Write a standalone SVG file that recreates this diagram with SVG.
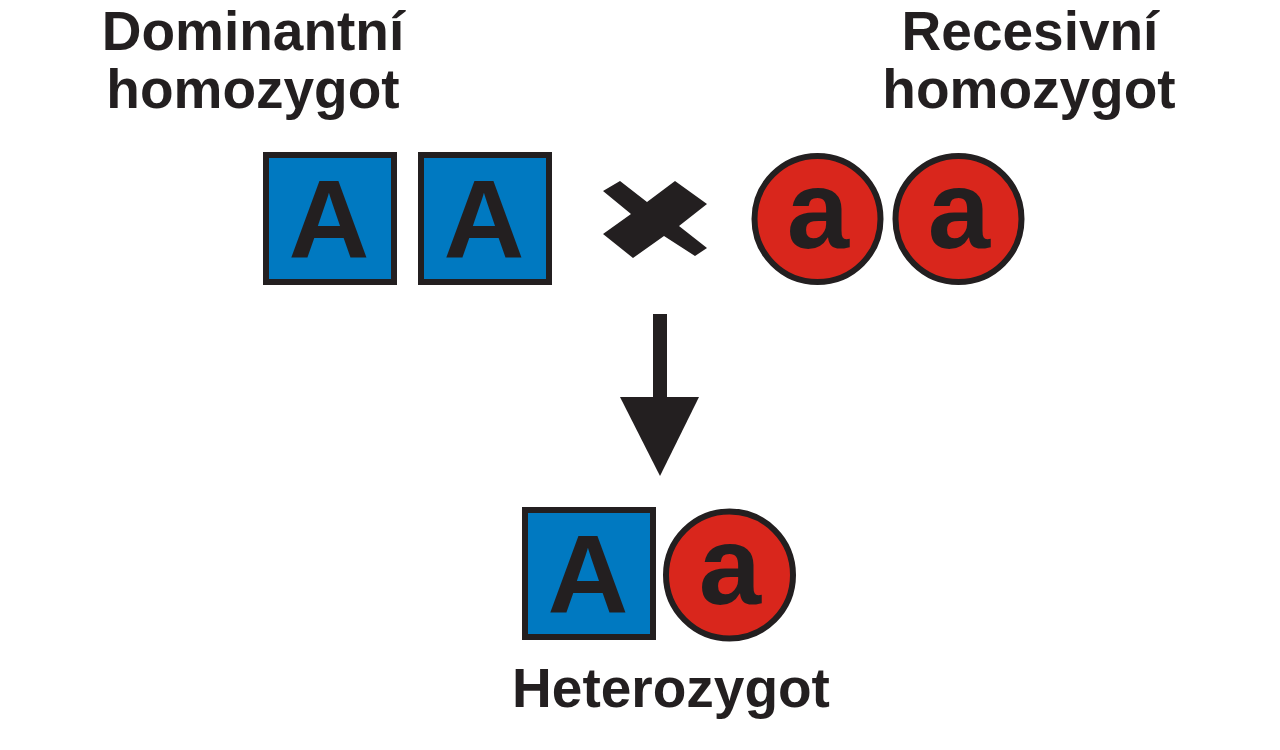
<svg xmlns="http://www.w3.org/2000/svg" width="1280" height="750" viewBox="0 0 1280 750">
<style>
.lbl{font-family:"Liberation Sans",Arial,sans-serif;font-weight:bold;font-size:55px;fill:#231f20;text-anchor:middle}
.big{font-family:"Liberation Sans",Arial,sans-serif;font-weight:bold;font-size:112px;fill:#231f20;text-anchor:middle}
.sq{fill:#0079c1;stroke:#231f20;stroke-width:6}
.ci{fill:#d9261c;stroke:#231f20;stroke-width:6}
</style>
<rect width="1280" height="750" fill="#ffffff"/>
<g id="label-dominant">
<text class="lbl" x="253" y="50">Dominantní</text>
<text class="lbl" x="253" y="108">homozygot</text>
</g>
<g id="label-recessive">
<text class="lbl" x="1030" y="50">Recesivní</text>
<text class="lbl" x="1029" y="108">homozygot</text>
</g>
<g id="A1">
<rect class="sq" x="266" y="155" width="128" height="127"/>
<text class="big" x="329" y="258">A</text>
</g>
<g id="A2">
<rect class="sq" x="421" y="155" width="128" height="127"/>
<text class="big" x="484" y="258">A</text>
</g>
<g id="cross">
<polygon fill="#231f20" points="603,191 620,181 647,202 675,181 707,204 679,226 707,248 695,256 664,236 633,258 603,234 631,214"/>
</g>
<g id="a1">
<circle class="ci" cx="817.5" cy="219" r="63"/>
<text class="big" x="818" y="248">a</text>
</g>
<g id="a2">
<circle class="ci" cx="958.5" cy="219" r="63"/>
<text class="big" x="959" y="248">a</text>
</g>
<g id="connectors">
<rect x="653" y="314" width="14" height="84" fill="#231f20"/>
<polygon fill="#231f20" points="620,397 699,397 660,476"/>
</g>
<g id="A3">
<rect class="sq" x="525" y="510" width="128" height="127"/>
<text class="big" x="588" y="613">A</text>
</g>
<g id="a3">
<circle class="ci" cx="729.5" cy="575" r="63.5"/>
<text class="big" x="730" y="604">a</text>
</g>
<g id="label-hetero">
<text class="lbl" x="671" y="707">Heterozygot</text>
</g>
</svg>
